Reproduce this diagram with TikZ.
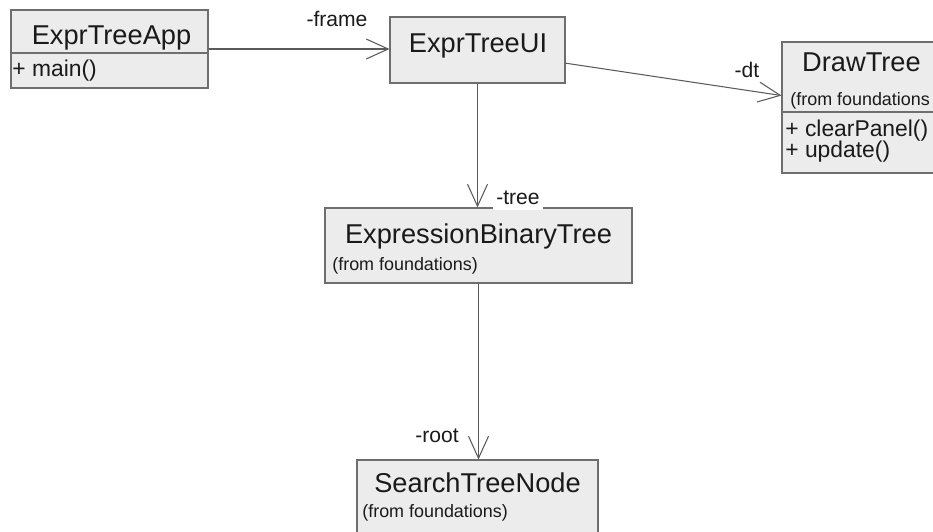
\documentclass[tikz,border=0pt]{standalone}
\usepackage{fontspec}
\setmainfont{Liberation Sans}
\usepackage{xcolor}
\definecolor{umlfill}{HTML}{ECECEC}
\definecolor{umlline}{HTML}{6E6E6E}
\definecolor{umlarrow}{HTML}{5A5A5A}
\definecolor{umltext}{HTML}{1A1A1A}
\usepackage{tikz}
\usetikzlibrary{positioning, arrows.meta}

\begin{document}
\begin{tikzpicture}[
  classbox/.style={draw=umlline, fill=umlfill, line width=0.6pt, inner sep=0pt},
  classname/.style={anchor=base, inner sep=0pt, text=umltext,
                    font=\fontsize{15.5}{18}\selectfont},
  pkgnote/.style={anchor=base west, inner sep=0pt, text=umltext,
                  font=\fontsize{10.2}{12}\selectfont},
  opname/.style={anchor=base west, inner sep=0pt, text=umltext,
                 font=\fontsize{13}{15}\selectfont},
  rolename/.style={anchor=base, inner sep=1pt, text=umltext,
                   font=\fontsize{12}{14}\selectfont},
  divider/.style={draw=umlline, line width=0.6pt},
  assoc/.style={-{Straight Barb[length=0.44cm, width=0.4cm]}, umlarrow, line width=0.6pt}
]
\clip (0,0) rectangle (18.66,10.62);

% ---- ExprTreeApp ----
\node[classbox, minimum width=3.94cm, minimum height=1.56cm] (app) at (2.19, 9.64) {};
\node[classname] (appname) at (2.23, 9.72) {ExprTreeApp};
\draw[divider] (app.west |- 0,9.56) -- (app.east |- 0,9.56);
\node[opname] (appmain) at (0.24, 9.08) {+ main()};

% ---- ExprTreeUI ----
\node[classbox, minimum width=3.5cm, minimum height=1.32cm] (ui) at (9.55, 9.62) {};
\node[classname] (uiname) at (9.56, 9.56) {ExprTreeUI};

% ---- DrawTree ----
\node[classbox, minimum width=3.18cm, minimum height=2.62cm] (dt) at (17.23, 8.47) {};
\node[classname] (dtname) at (17.23, 9.18) {DrawTree};
\node[pkgnote] (dtpkg) at (15.80, 8.50) {(from foundations};
\draw[divider] (dt.west |- 0,8.38) -- (dt.east |- 0,8.38);
\node[opname] (dtclear) at (15.70, 7.88) {+ clearPanel()};
\node[opname] (dtupdate) at (15.70, 7.46) {+ update()};

% ---- ExpressionBinaryTree ----
\node[classbox, minimum width=6.14cm, minimum height=1.5cm] (ebt) at (9.57, 5.71) {};
\node[classname] (ebtname) at (9.57, 5.76) {ExpressionBinaryTree};
\node[pkgnote] (ebtpkg) at (6.64, 5.22) {(from foundations)};

% ---- SearchTreeNode ----
\node[classbox, minimum width=4.82cm, minimum height=1.5cm] (stn) at (9.55, 0.67) {};
\node[classname] (stnname) at (9.55, 0.78) {SearchTreeNode};
\node[pkgnote] (stnpkg) at (7.24, 0.28) {(from foundations)};

% ---- associations ----
\draw[assoc] (app.east) -- (app.east -| ui.west);
\draw[assoc] (ui) -- (dt);
\draw[assoc] (ui.south) -- (ui.south |- ebt.north);
\draw[assoc] (ebt.south) -- (ebt.south |- stn.north);

\node[rolename] (frame) at (6.74, 10.08) {-frame};
\node[rolename] (dtrole) at (14.94, 9.06) {-dt};
\node[rolename, fill=white, inner ysep=3pt, inner xsep=2pt] (tree) at (10.36, 6.52) {-tree};
\node[rolename] (root) at (8.74, 1.78) {-root};

\end{tikzpicture}
\end{document}
